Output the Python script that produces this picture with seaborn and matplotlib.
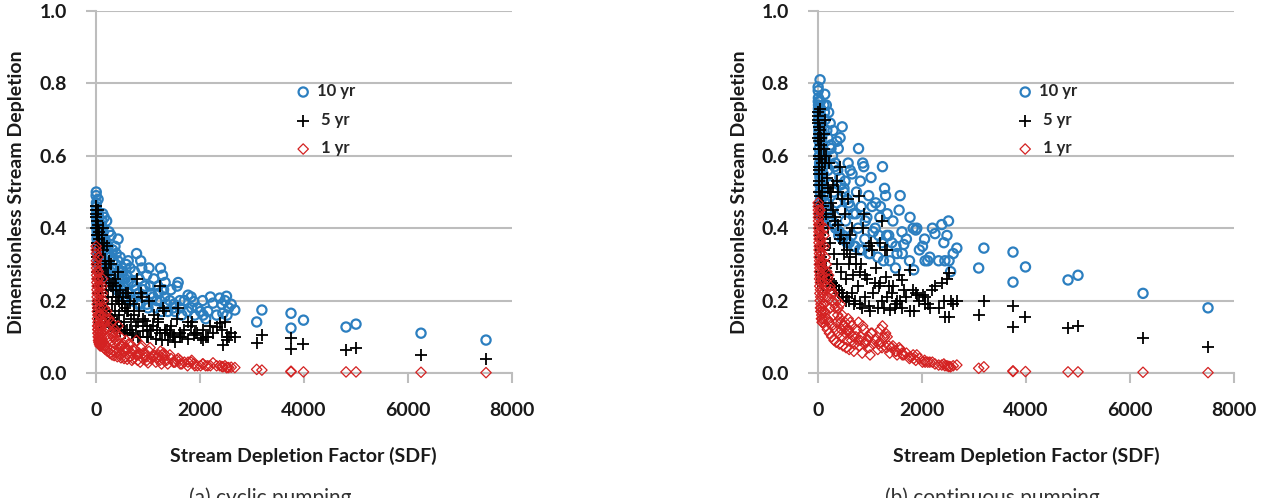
import numpy as np
import pandas as pd
import seaborn as sns
import matplotlib.pyplot as plt

# stream depletion factor of each well (shared by both panels)
sdf = [5, 8, 10, 12, 15, 18, 20, 22, 25, 28, 30, 33, 36, 40, 42, 45, 48, 50, 55, 58,
       62, 66, 70, 74, 78, 82, 86, 90, 95, 100, 105, 110, 115, 120, 125, 130,
       140, 150, 160, 170, 180, 190, 205, 220, 235, 250, 265, 280, 290, 310, 330, 350,
       365, 380, 390, 410, 425, 440, 465, 480, 500, 520, 540, 560, 580, 600,
       620, 655, 690, 730, 780, 815, 850, 880, 910, 975, 1000, 1040, 1100, 1170, 1200,
       1240, 1260, 1300, 1330, 1360, 1420, 1490,
       1520, 1580, 1615, 1650, 1770, 1840, 1880, 1900, 2010, 2060, 2110, 2250, 2320,
       2380, 2440, 2510, 2550, 2670,
       3090, 3190, 3750, 3750, 3990, 4808, 5000, 6250, 7500,
       60, 75, 95, 110, 130, 150, 170, 190, 210, 230, 250, 270, 300, 320, 340,
       360, 400, 420, 450, 470, 500, 530, 560, 590, 620, 650, 680, 710, 740, 770,
       800, 830, 860, 900, 940, 980, 1020, 1060, 1110, 1150, 1190, 1230, 1280, 1320, 1380,
       1440, 1500, 1560, 1620, 1700, 1760, 1830, 1950, 2050, 2150, 2200, 2420, 2480, 2520, 2600,
       3, 6, 9, 14, 17, 21, 24, 27, 31, 35, 38, 44, 47, 52, 57, 64, 68, 72, 84, 92]

# (a) cyclic pumping
cyc_10yr = [0.50, 0.47, 0.45, 0.43, 0.42, 0.41, 0.40, 0.38, 0.37, 0.36, 0.35, 0.34, 0.33, 0.48, 0.32, 0.44, 0.31, 0.43, 0.30, 0.42,
            0.41, 0.30, 0.40, 0.39, 0.29, 0.38, 0.37, 0.36, 0.35, 0.34, 0.33, 0.32, 0.42, 0.31, 0.40, 0.44,
            0.39, 0.30, 0.43, 0.37, 0.29, 0.36, 0.42, 0.28, 0.35, 0.33, 0.27, 0.32, 0.38, 0.26, 0.31, 0.25,
            0.35, 0.30, 0.33, 0.24, 0.37, 0.28, 0.32, 0.23, 0.27, 0.28, 0.22, 0.26, 0.30, 0.21,
            0.25, 0.29, 0.20, 0.24, 0.33, 0.22, 0.19, 0.29, 0.23, 0.27, 0.18, 0.24, 0.21, 0.20, 0.22,
            0.29, 0.17, 0.23, 0.25, 0.19, 0.20, 0.18,
            0.17, 0.25, 0.20, 0.16, 0.215, 0.18, 0.197, 0.16, 0.17, 0.16, 0.15, 0.193, 0.16,
            0.207, 0.165, 0.212, 0.18, 0.174,
            0.141, 0.174, 0.165, 0.124, 0.146, 0.127, 0.135, 0.11, 0.091,
            0.36, 0.33, 0.31, 0.29, 0.28, 0.36, 0.27, 0.33, 0.26, 0.30, 0.39, 0.25, 0.29, 0.34, 0.24,
            0.27, 0.23, 0.31, 0.26, 0.22, 0.29, 0.24, 0.21, 0.27, 0.31, 0.22, 0.25, 0.20, 0.28, 0.23,
            0.19, 0.26, 0.31, 0.21, 0.24, 0.19, 0.29, 0.22, 0.26, 0.18, 0.24, 0.20, 0.27, 0.21, 0.17,
            0.23, 0.19, 0.24, 0.18, 0.20, 0.17, 0.21, 0.18, 0.20, 0.17, 0.21, 0.19, 0.20, 0.16, 0.19,
            0.49, 0.46, 0.44, 0.42, 0.40, 0.39, 0.37, 0.36, 0.35, 0.34, 0.33, 0.32, 0.31, 0.31, 0.30,
            0.29, 0.29, 0.28, 0.28, 0.27]
cyc_5yr = [0.46, 0.44, 0.42, 0.40, 0.38, 0.36, 0.34, 0.32, 0.30, 0.28, 0.26, 0.24, 0.22, 0.45, 0.20, 0.41, 0.18, 0.39, 0.17, 0.37,
           0.35, 0.16, 0.33, 0.31, 0.15, 0.29, 0.27, 0.25, 0.23, 0.22, 0.21, 0.20, 0.38, 0.19, 0.36, 0.40,
           0.34, 0.18, 0.36, 0.31, 0.17, 0.29, 0.35, 0.16, 0.27, 0.25, 0.16, 0.24, 0.30, 0.15, 0.23, 0.14,
           0.26, 0.21, 0.24, 0.14, 0.28, 0.20, 0.23, 0.13, 0.19, 0.21, 0.12, 0.18, 0.22, 0.12,
           0.17, 0.20, 0.11, 0.16, 0.26, 0.14, 0.10, 0.21, 0.15, 0.13, 0.10, 0.12, 0.13, 0.12, 0.15,
           0.24, 0.09, 0.17, 0.11, 0.12, 0.11, 0.10,
           0.086, 0.18, 0.11, 0.10, 0.14, 0.141, 0.105, 0.11, 0.097, 0.09, 0.10, 0.11, 0.127,
           0.138, 0.077, 0.10, 0.10, 0.10,
           0.083, 0.105, 0.098, 0.066, 0.08, 0.064, 0.069, 0.05, 0.039,
           0.30, 0.26, 0.22, 0.19, 0.17, 0.27, 0.15, 0.24, 0.14, 0.21, 0.31, 0.13, 0.19, 0.25, 0.125,
           0.17, 0.12, 0.21, 0.16, 0.115, 0.19, 0.14, 0.11, 0.17, 0.22, 0.12, 0.15, 0.105, 0.19, 0.13,
           0.10, 0.17, 0.22, 0.115, 0.145, 0.10, 0.20, 0.12, 0.16, 0.095, 0.14, 0.11, 0.18, 0.12, 0.09,
           0.13, 0.105, 0.15, 0.10, 0.12, 0.095, 0.13, 0.11, 0.12, 0.10, 0.13, 0.12, 0.14, 0.09, 0.11,
           0.45, 0.43, 0.40, 0.38, 0.36, 0.34, 0.32, 0.30, 0.28, 0.26, 0.24, 0.22, 0.20, 0.19, 0.18,
           0.17, 0.16, 0.15, 0.14, 0.14]
cyc_1yr = [0.34, 0.31, 0.29, 0.27, 0.25, 0.23, 0.21, 0.19, 0.17, 0.15, 0.13, 0.12, 0.11, 0.32, 0.10, 0.28, 0.09, 0.26, 0.085, 0.24,
           0.22, 0.08, 0.20, 0.18, 0.075, 0.16, 0.145, 0.13, 0.12, 0.11, 0.10, 0.09, 0.24, 0.08, 0.22, 0.26,
           0.20, 0.07, 0.18, 0.16, 0.065, 0.15, 0.17, 0.06, 0.13, 0.12, 0.055, 0.11, 0.14, 0.05, 0.10, 0.048,
           0.12, 0.09, 0.11, 0.045, 0.13, 0.08, 0.10, 0.042, 0.075, 0.08, 0.04, 0.07, 0.09, 0.038,
           0.065, 0.08, 0.035, 0.06, 0.09, 0.05, 0.03, 0.075, 0.055, 0.045, 0.028, 0.07, 0.045, 0.04, 0.05,
           0.06, 0.025, 0.055, 0.05, 0.035, 0.05, 0.03,
           0.03, 0.04, 0.035, 0.025, 0.03, 0.035, 0.025, 0.02, 0.02, 0.025, 0.02, 0.028, 0.02,
           0.02, 0.017, 0.015, 0.015, 0.015,
           0.01, 0.008, 0.005, 0.003, 0.003, 0.003, 0.003, 0.002, 0.001,
           0.16, 0.13, 0.11, 0.095, 0.085, 0.14, 0.075, 0.12, 0.07, 0.10, 0.15, 0.065, 0.09, 0.11, 0.06,
           0.08, 0.055, 0.09, 0.07, 0.05, 0.075, 0.06, 0.045, 0.065, 0.08, 0.045, 0.055, 0.04, 0.065, 0.05,
           0.035, 0.055, 0.07, 0.04, 0.05, 0.035, 0.06, 0.04, 0.05, 0.03, 0.045, 0.035, 0.05, 0.035, 0.025,
           0.04, 0.03, 0.035, 0.025, 0.03, 0.02, 0.03, 0.02, 0.025, 0.02, 0.02, 0.018, 0.02, 0.015, 0.016,
           0.35, 0.33, 0.30, 0.28, 0.26, 0.24, 0.22, 0.20, 0.18, 0.16, 0.14, 0.13, 0.12, 0.11, 0.10,
           0.095, 0.09, 0.085, 0.08, 0.075]

# (b) continuous pumping
con_10yr = [0.78, 0.76, 0.74, 0.72, 0.70, 0.68, 0.66, 0.64, 0.62, 0.60, 0.57, 0.55, 0.52, 0.81, 0.50, 0.75, 0.48, 0.73, 0.46, 0.71,
            0.69, 0.44, 0.67, 0.65, 0.42, 0.63, 0.61, 0.59, 0.57, 0.55, 0.53, 0.51, 0.74, 0.49, 0.72, 0.77,
            0.70, 0.47, 0.74, 0.67, 0.45, 0.65, 0.72, 0.44, 0.69, 0.62, 0.42, 0.60, 0.67, 0.41, 0.58, 0.40,
            0.64, 0.56, 0.62, 0.39, 0.65, 0.52, 0.68, 0.38, 0.50, 0.53, 0.37, 0.48, 0.58, 0.36,
            0.46, 0.55, 0.35, 0.44, 0.62, 0.53, 0.34, 0.57, 0.42, 0.49, 0.33, 0.46, 0.40, 0.38, 0.46,
            0.57, 0.31, 0.49, 0.44, 0.38, 0.36, 0.29,
            0.33, 0.49, 0.39, 0.355, 0.43, 0.285, 0.395, 0.40, 0.35, 0.31, 0.31, 0.385, 0.31,
            0.41, 0.31, 0.42, 0.28, 0.345,
            0.29, 0.345, 0.334, 0.251, 0.293, 0.257, 0.27, 0.22, 0.18,
            0.58, 0.55, 0.52, 0.49, 0.47, 0.60, 0.45, 0.56, 0.43, 0.52, 0.63, 0.42, 0.50, 0.57, 0.40,
            0.47, 0.38, 0.54, 0.45, 0.37, 0.51, 0.42, 0.36, 0.47, 0.56, 0.38, 0.44, 0.35, 0.50, 0.40,
            0.34, 0.46, 0.58, 0.37, 0.43, 0.33, 0.54, 0.39, 0.47, 0.32, 0.43, 0.36, 0.51, 0.38, 0.31,
            0.42, 0.35, 0.45, 0.33, 0.37, 0.31, 0.40, 0.34, 0.37, 0.32, 0.40, 0.36, 0.38, 0.31, 0.33,
            0.79, 0.75, 0.73, 0.70, 0.67, 0.65, 0.62, 0.60, 0.58, 0.56, 0.54, 0.52, 0.50, 0.48, 0.47,
            0.45, 0.44, 0.43, 0.42, 0.41]
con_5yr = [0.72, 0.70, 0.68, 0.66, 0.64, 0.62, 0.60, 0.57, 0.55, 0.52, 0.49, 0.46, 0.43, 0.73, 0.40, 0.67, 0.37, 0.65, 0.34, 0.63,
           0.60, 0.30, 0.58, 0.55, 0.28, 0.52, 0.49, 0.46, 0.43, 0.40, 0.37, 0.34, 0.66, 0.31, 0.62, 0.70,
           0.58, 0.29, 0.60, 0.54, 0.27, 0.51, 0.58, 0.26, 0.50, 0.47, 0.25, 0.45, 0.52, 0.24, 0.43, 0.23,
           0.53, 0.41, 0.50, 0.22, 0.57, 0.38, 0.48, 0.21, 0.36, 0.44, 0.20, 0.34, 0.48, 0.20,
           0.32, 0.40, 0.19, 0.30, 0.49, 0.28, 0.18, 0.44, 0.27, 0.35, 0.17, 0.34, 0.25, 0.24, 0.36,
           0.42, 0.18, 0.265, 0.34, 0.24, 0.22, 0.18,
           0.20, 0.20, 0.257, 0.23, 0.285, 0.17, 0.22, 0.215, 0.215, 0.19, 0.19, 0.24, 0.18,
           0.25, 0.155, 0.275, 0.20, 0.20,
           0.16, 0.20, 0.185, 0.127, 0.155, 0.124, 0.13, 0.097, 0.072,
           0.45, 0.40, 0.35, 0.31, 0.28, 0.44, 0.27, 0.40, 0.26, 0.36, 0.50, 0.25, 0.33, 0.42, 0.24,
           0.30, 0.23, 0.37, 0.28, 0.22, 0.33, 0.26, 0.21, 0.30, 0.38, 0.22, 0.27, 0.20, 0.33, 0.24,
           0.19, 0.30, 0.40, 0.21, 0.26, 0.185, 0.36, 0.22, 0.29, 0.18, 0.25, 0.20, 0.34, 0.21, 0.175,
           0.24, 0.19, 0.27, 0.18, 0.21, 0.17, 0.23, 0.20, 0.21, 0.18, 0.23, 0.20, 0.26, 0.155, 0.19,
           0.71, 0.69, 0.65, 0.62, 0.59, 0.56, 0.53, 0.50, 0.47, 0.44, 0.41, 0.38, 0.35, 0.32, 0.30,
           0.28, 0.27, 0.26, 0.25, 0.24]
con_1yr = [0.46, 0.44, 0.42, 0.40, 0.38, 0.36, 0.34, 0.32, 0.30, 0.28, 0.26, 0.24, 0.22, 0.45, 0.20, 0.41, 0.18, 0.39, 0.17, 0.37,
           0.35, 0.15, 0.33, 0.31, 0.14, 0.29, 0.27, 0.25, 0.23, 0.21, 0.19, 0.17, 0.38, 0.15, 0.35, 0.40,
           0.32, 0.13, 0.30, 0.28, 0.12, 0.26, 0.27, 0.11, 0.24, 0.22, 0.10, 0.20, 0.22, 0.09, 0.18, 0.085,
           0.20, 0.16, 0.18, 0.08, 0.19, 0.14, 0.16, 0.075, 0.13, 0.14, 0.07, 0.12, 0.15, 0.065,
           0.11, 0.13, 0.06, 0.10, 0.14, 0.09, 0.055, 0.12, 0.085, 0.10, 0.05, 0.11, 0.09, 0.08, 0.12,
           0.13, 0.097, 0.11, 0.10, 0.075, 0.07, 0.06,
           0.05, 0.065, 0.055, 0.05, 0.045, 0.04, 0.035, 0.05, 0.03, 0.03, 0.03, 0.025, 0.022,
           0.022, 0.02, 0.018, 0.017, 0.022,
           0.013, 0.017, 0.006, 0.004, 0.004, 0.003, 0.003, 0.002, 0.001,
           0.30, 0.26, 0.22, 0.19, 0.17, 0.24, 0.15, 0.21, 0.14, 0.18, 0.23, 0.13, 0.16, 0.19, 0.12,
           0.14, 0.11, 0.15, 0.12, 0.10, 0.13, 0.11, 0.09, 0.12, 0.14, 0.09, 0.10, 0.08, 0.12, 0.09,
           0.075, 0.10, 0.13, 0.08, 0.09, 0.07, 0.11, 0.08, 0.095, 0.065, 0.085, 0.07, 0.10, 0.07, 0.055,
           0.075, 0.06, 0.07, 0.05, 0.055, 0.04, 0.05, 0.04, 0.035, 0.03, 0.03, 0.025, 0.02, 0.018, 0.02,
           0.47, 0.45, 0.43, 0.41, 0.39, 0.37, 0.35, 0.33, 0.31, 0.29, 0.27, 0.25, 0.23, 0.21, 0.19,
           0.18, 0.17, 0.16, 0.15, 0.14]

x_ticks = [0, 2000, 4000, 6000, 8000]
y_ticks = [0.0, 0.2, 0.4, 0.6, 0.8, 1.0]

sns.set_style("white")
plt.rcParams['font.family'] = ['Lato', 'DejaVu Sans']

blue = '#2C7FC0'
red = '#D42222'
grey = '#BDBDBD'

fig = plt.figure(figsize=(12.68, 4.98), dpi=100)
ax_a = fig.add_axes([0.0757, 0.251, 0.3281, 0.7269])
ax_b = fig.add_axes([0.6451, 0.251, 0.3281, 0.7269])

panels = [
    (ax_a, cyc_10yr, cyc_5yr, cyc_1yr, '(a) cyclic pumping', 303, 270),
    (ax_b, con_10yr, con_5yr, con_1yr, '(b) continuous pumping', 1026, 992),
]

for ax, y10, y5, y1, caption, xlab_px, cap_px in panels:
    df = pd.DataFrame({'sdf': sdf, 'y10': y10, 'y5': y5, 'y1': y1})
    sns.scatterplot(data=df, x='sdf', y='y10', ax=ax, marker='o', s=44,
                    facecolors='none', edgecolor=blue, linewidth=1.6,
                    label='10 yr', clip_on=False, zorder=3)
    sns.scatterplot(data=df, x='sdf', y='y5', ax=ax, marker='+', s=72,
                    color='black', linewidth=1.3, label=' 5 yr',
                    clip_on=False, zorder=4)
    sns.scatterplot(data=df, x='sdf', y='y1', ax=ax, marker='D', s=28,
                    facecolors='none', edgecolor=red, linewidth=0.9,
                    label=' 1 yr', clip_on=False, zorder=5)

    ax.set_xlim(0, 8000)
    ax.set_ylim(0, 1.0)
    ax.set_xticks(x_ticks)
    ax.set_yticks(y_ticks)
    ax.yaxis.set_major_formatter('{x:.1f}')
    ax.set_xlabel('')
    ax.set_ylabel('')
    ax.grid(axis='y', color=grey, linewidth=1.5)
    ax.grid(axis='x', visible=False)
    ax.set_axisbelow(True)
    for side in ['top', 'right']:
        ax.spines[side].set_visible(False)
    for side in ['left', 'bottom']:
        ax.spines[side].set_color(grey)
        ax.spines[side].set_linewidth(1.5)
    ax.tick_params(axis='y', left=True, length=7, width=1.5, color=grey,
                   pad=14, labelsize=14)
    ax.tick_params(axis='x', bottom=True, length=7, width=1.5, color=grey,
                   pad=14, labelsize=14)
    for lab in ax.get_xticklabels() + ax.get_yticklabels():
        lab.set_fontweight('bold')
        lab.set_color('#1a1a1a')

    ax.legend(loc='upper left', bbox_to_anchor=(0.478, 0.80), frameon=False,
              prop={'size': 12, 'weight': 'bold'}, handlelength=1.0,
              handletextpad=0.3, labelspacing=0.75, borderpad=0,
              borderaxespad=0, markerscale=1.0)

    fig.text(xlab_px / 1268, 1 - 456 / 498, 'Stream Depletion Factor (SDF)',
             ha='center', va='center', fontsize=14, fontweight='bold',
             color='#1a1a1a')
    # caption sits at the bottom edge, partly cut like in the source figure
    fig.text(cap_px / 1268, 1 - 487 / 498, caption, ha='center', va='top',
             fontsize=15, color='#333333')

for x_px in [17, 739]:
    fig.text(x_px / 1268, 1 - 192 / 498, 'Dimensionless Stream Depletion',
             rotation=90, ha='center', va='center', fontsize=14,
             fontweight='bold', color='#1a1a1a')

fig.savefig('out.png', dpi=100)
